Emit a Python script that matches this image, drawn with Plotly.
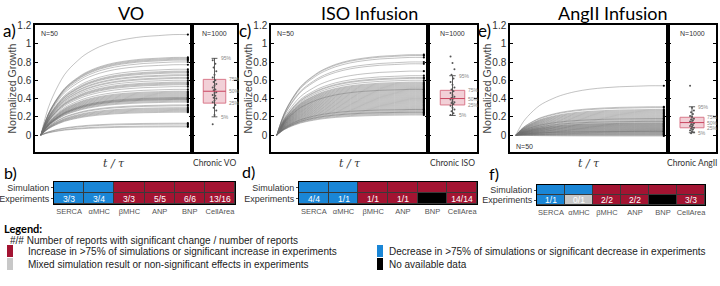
import plotly.graph_objects as go

W, H = 720, 286
def fx(p): return p / W
def fy(p): return 1 - p / H

# ---------------- data ----------------
t_grid = [0, 0.02, 0.05, 0.08, 0.12, 0.16, 0.2, 0.25, 0.3, 0.4, 0.5, 0.6, 0.7, 0.8, 0.9, 1.0]
rise_profile = [0, 0.12, 0.27, 0.38, 0.5, 0.6, 0.67, 0.74, 0.8, 0.88, 0.93, 0.96, 0.98, 0.99, 1.0, 1.0]

vo_plateaus = [1.1, 0.85, 0.84, 0.83, 0.82, 0.80, 0.77, 0.72, 0.70, 0.69, 0.68, 0.66, 0.65, 0.63, 0.62,
               0.60, 0.58, 0.57, 0.56, 0.55, 0.53, 0.50, 0.48, 0.47, 0.46, 0.45, 0.44, 0.43, 0.42, 0.41,
               0.41, 0.40, 0.40, 0.39, 0.39, 0.38, 0.37, 0.36, 0.33, 0.32, 0.30, 0.29, 0.28, 0.27, 0.26,
               0.25, 0.13, 0.12, 0.10, 0.09]
iso_plateaus = [0.88, 0.87, 0.85, 0.80, 0.78, 0.70, 0.65, 0.63, 0.62, 0.60, 0.58, 0.57, 0.56, 0.55, 0.54,
                0.53, 0.52, 0.51, 0.50, 0.50, 0.49, 0.48, 0.47, 0.46, 0.45, 0.44, 0.43, 0.42, 0.41, 0.40,
                0.39, 0.38, 0.37, 0.36, 0.35, 0.34, 0.33, 0.32, 0.31, 0.30, 0.29, 0.28, 0.28, 0.27, 0.26,
                0.25, 0.25, 0.24, 0.23, 0.22]
angii_plateaus = [0.54, 0.31, 0.30, 0.28, 0.27, 0.26, 0.25, 0.24, 0.23, 0.22, 0.21, 0.20, 0.19, 0.18, 0.18,
                  0.17, 0.16, 0.15, 0.15, 0.14, 0.13, 0.13, 0.12, 0.12, 0.11, 0.11, 0.10, 0.10, 0.09, 0.09,
                  0.08, 0.08, 0.07, 0.07, 0.06, 0.06, 0.05, 0.05, 0.04, 0.04, 0.04, 0.03, 0.03, 0.02, 0.02,
                  0.01, 0.01, 0.0, 0.0, -0.01]

percentile_labels = ["5%", "25%", "50%", "75%", "95%"]
vo_percentiles = [0.20, 0.35, 0.48, 0.61, 0.84]
iso_percentiles = [0.215, 0.33, 0.40, 0.49, 0.65]
angii_percentiles = [0.026, 0.08, 0.137, 0.195, 0.31]

vo_points = [0.12, 0.22, 0.27, 0.30, 0.33, 0.36, 0.38, 0.40, 0.41, 0.43, 0.44, 0.46, 0.47, 0.49, 0.50,
             0.52, 0.54, 0.56, 0.58, 0.60, 0.63, 0.66, 0.70, 0.74, 0.78, 0.82]
iso_points = [0.86, 0.79, 0.72, 0.66, 0.62, 0.58, 0.55, 0.52, 0.50, 0.48, 0.46, 0.44, 0.42, 0.41, 0.40,
              0.39, 0.37, 0.36, 0.35, 0.34, 0.32, 0.30, 0.28, 0.26, 0.24, 0.22]
angii_points = [0.54, 0.30, 0.27, 0.25, 0.23, 0.21, 0.20, 0.18, 0.17, 0.16, 0.15, 0.14, 0.13, 0.12, 0.11,
                0.10, 0.09, 0.08, 0.07, 0.06, 0.05, 0.04, 0.03, 0.02]

y_ticks = [0, 0.2, 0.4, 0.6, 0.8, 1.0, 1.2]

markers = ["SERCA", "αMHC", "βMHC", "ANP", "BNP", "CellArea"]
rows = ["Experiments", "Simulation"]
vo_sim = ["down", "down", "up", "up", "up", "up"]
vo_exp = ["down", "down", "up", "up", "up", "up"]
vo_txt = ["3/3", "3/4", "3/3", "5/5", "6/6", "13/16"]
iso_sim = ["down", "down", "up", "up", "up", "up"]
iso_exp = ["down", "down", "up", "up", "na", "up"]
iso_txt = ["4/4", "1/1", "1/1", "1/1", "", "14/14"]
angii_sim = ["down", "down", "up", "up", "up", "up"]
angii_exp = ["down", "mixed", "up", "up", "na", "up"]
angii_txt = ["1/1", "0/1", "2/2", "2/2", "", "3/3"]

status_code = {"mixed": 0, "down": 1, "up": 2, "na": 3}
RED, BLUE, GRAY, BLACK = "#a31432", "#1a86d6", "#c8c8c8", "#000000"

legend_items = [
    ("up", "Increase in >75% of simulations or significant increase in experiments"),
    ("mixed", "Mixed simulation result or non-significant effects in experiments"),
    ("down", "Decrease in >75% of simulations or significant decrease in experiments"),
    ("na", "No available data"),
]
status_color = {"mixed": GRAY, "down": BLUE, "up": RED, "na": BLACK}

# ---------------- layout geometry ----------------
panels = [
    dict(title="VO", letter="a)", main=(35, 192), right=(192, 237), plate=vo_plateaus,
         pct=vo_percentiles, pts=vo_points, chronic="Chronic VO", n50_top=True, tcx=131,
         heat=(54, 235, 182, 204), hletter=("b)", 2, 172), sim=vo_sim, exp=vo_exp, txt=vo_txt),
    dict(title="ISO Infusion", letter="c)", main=(271, 428), right=(428, 477), plate=iso_plateaus,
         pct=iso_percentiles, pts=iso_points, chronic="Chronic ISO", n50_top=True, tcx=370,
         heat=(299, 477, 182, 204), hletter=("d)", 240, 171), sim=iso_sim, exp=iso_exp, txt=iso_txt),
    dict(title="AngII Infusion", letter="e)", main=(510, 668), right=(668, 716), plate=angii_plateaus,
         pct=angii_percentiles, pts=angii_points, chronic="Chronic AngII", n50_top=False, tcx=613,
         heat=(537, 705, 185, 205), hletter=("f)", 487, 173), sim=angii_sim, exp=angii_exp, txt=angii_txt),
]
TOP, BOT = 25, 152
YR = [-0.185, 1.205]
FONT = "Liberation Sans, Arial, sans-serif"
CAL = "Lato, Open Sans, sans-serif"
NARROW = "Liberation Sans Narrow, Arial Narrow, sans-serif"

fig = go.Figure()
layout = dict(template="none", width=W, height=H, margin=dict(l=0, r=0, t=0, b=0, autoexpand=False),
              paper_bgcolor="white", plot_bgcolor="white", showlegend=False)
shapes, annos = [], []

def txt_at(px, py, text, size, color="#333", family=FONT, xanchor="center", **kw):
    annos.append(dict(xref="paper", yref="paper", x=fx(px), y=fy(py), text=text, showarrow=False,
                      xanchor=xanchor, yanchor="middle", font=dict(size=size, color=color, family=family), **kw))

for i, p in enumerate(panels):
    ax_m, ax_r, ax_h = 3 * i + 1, 3 * i + 2, 3 * i + 3
    def nm(k): return "" if k == 1 else str(k)
    xm, ym = "x" + nm(ax_m), "y" + nm(ax_m)
    xr, yr = "x" + nm(ax_r), "y" + nm(ax_r)
    xh, yh = "x" + nm(ax_h), "y" + nm(ax_h)

    # curves
    for A in p["plate"]:
        fig.add_trace(go.Scatter(x=t_grid, y=[A * r for r in rise_profile], mode="lines",
                                 line=dict(color="rgba(110,110,110,0.6)", width=0.7, shape="spline"),
                                 xaxis=xm, yaxis=ym, hoverinfo="skip"))
    fig.add_trace(go.Scatter(x=[t_grid[-1]] * len(p["plate"]), y=p["plate"], mode="markers",
                             marker=dict(color="black", size=2.2), xaxis=xm, yaxis=ym, hoverinfo="skip"))

    # right panel: box
    p5, p25, p50, p75, p95 = p["pct"]
    shapes.append(dict(type="rect", xref=xr, yref=yr, x0=-0.5, x1=0.5, y0=p25, y1=p75,
                       fillcolor="rgba(232,170,182,0.55)", line=dict(color="#d9798b", width=1), layer="below"))
    shapes.append(dict(type="line", xref=xr, yref=yr, x0=-0.5, x1=0.5, y0=p50, y1=p50,
                       line=dict(color="#c8455f", width=1)))
    fig.add_trace(go.Scatter(x=[0, 0], y=[p5, p95], mode="lines", line=dict(color="#333", width=0.8),
                             xaxis=xr, yaxis=yr, hoverinfo="skip"))
    for v in (p5, p95):
        fig.add_trace(go.Scatter(x=[-0.13, 0.13], y=[v, v], mode="lines", line=dict(color="#333", width=0.8),
                                 xaxis=xr, yaxis=yr, hoverinfo="skip"))
    jit = [((k * 7) % 5 - 2) * 0.04 for k in range(len(p["pts"]))]
    fig.add_trace(go.Scatter(x=jit, y=p["pts"], mode="markers", marker=dict(color="#555", size=2),
                             xaxis=xr, yaxis=yr, hoverinfo="skip"))
    for lab, v in zip(percentile_labels, p["pct"]):
        xx = 0.18 if lab in ("5%", "95%") else 0.55
        annos.append(dict(xref=xr, yref=yr, x=xx, y=v, text=lab, showarrow=False, xanchor="left",
                          yanchor="middle", font=dict(size=5, color="#888", family=FONT)))

    x0, x1 = p["main"]; r0, r1 = p["right"]
    dom_y = [fy(BOT), fy(TOP)]
    common = dict(automargin=False, showgrid=False, zeroline=False, showline=True,
                  linecolor="black", linewidth=1.5)
    layout["xaxis" + nm(ax_m)] = dict(domain=[fx(x0), fx(x1)], range=[-0.04, 1.028], anchor=ym,
                                      mirror=True, showticklabels=False, ticks="", **common)
    layout["yaxis" + nm(ax_m)] = dict(domain=dom_y, range=YR, anchor=xm, tickvals=y_ticks,
                                      mirror="ticks", ticks="inside", ticklen=3, tickcolor="black",
                                      tickfont=dict(size=10, color="#333", family=FONT), **common)
    layout["xaxis" + nm(ax_r)] = dict(domain=[fx(r0), fx(r1)], range=[-1, 1], anchor=yr,
                                      mirror=True, showticklabels=False, ticks="", **common)
    layout["yaxis" + nm(ax_r)] = dict(domain=dom_y, range=YR, anchor=xr, tickvals=y_ticks,
                                      mirror="ticks", ticks="inside", ticklen=3, tickcolor="black",
                                      showticklabels=False, **common)

    # texts around panel
    txt_at(p["tcx"], 13, p["title"], 18, "black", CAL)
    txt_at(x0 - 34, 31, p["letter"], 17, "black", CAL, xanchor="left")
    txt_at(x0 - 23, (TOP + BOT) / 2, "Normalized Growth", 10.5, "#444", FONT, textangle=-90)
    txt_at((x0 + x1) / 2, 163, "<i>t / τ</i>", 11, "#333", "DejaVu Serif")
    txt_at((r0 + r1) / 2, 163, p["chronic"], 8.5, "#333", CAL)
    txt_at((r0 + r1) / 2, 33, "N=1000", 7)
    txt_at(x0 + 4, 33 if p["n50_top"] else 146, "N=50", 7, xanchor="left")

    # heatmap
    hx0, hx1, hy0, hy1 = p["heat"]
    z = [[status_code[s] for s in p["exp"]], [status_code[s] for s in p["sim"]]]
    txt = [p["txt"], [""] * len(markers)]
    fig.add_trace(go.Heatmap(x=markers, y=rows, z=z, text=txt, texttemplate="%{text}",
                             textfont=dict(color="white", size=8.5, family=FONT),
                             zmin=0, zmax=3, showscale=False, xgap=1, ygap=1,
                             colorscale=[[0, GRAY], [0.2, GRAY], [0.2, BLUE], [0.5, BLUE], [0.5, RED],
                                         [0.8, RED], [0.8, BLACK], [1, BLACK]],
                             xaxis=xh, yaxis=yh, hoverinfo="skip"))
    shapes.append(dict(type="rect", xref=xh + " domain", yref=yh + " domain", x0=0, x1=1, y0=0, y1=1,
                       fillcolor="#3a3a3a", line=dict(width=0), layer="below"))
    layout["xaxis" + nm(ax_h)] = dict(domain=[fx(hx0), fx(hx1)], anchor=yh, showline=True, mirror=True,
                                      linecolor="black", linewidth=1, ticks="", showgrid=False,
                                      automargin=False, zeroline=False, tickmode="array",
                                      tickvals=markers, ticktext=markers,
                                      tickfont=dict(size=7.5, color="#555", family=FONT))
    layout["yaxis" + nm(ax_h)] = dict(domain=[fy(hy1), fy(hy0)], anchor=xh, showline=True, mirror=True,
                                      linecolor="black", linewidth=1, ticks="outside", ticklen=2,
                                      showgrid=False, automargin=False, zeroline=False,
                                      tickmode="array", tickvals=rows, ticktext=rows,
                                      tickfont=dict(size=9, color="#333", family=FONT))
    lt, lx, ly = p["hletter"]
    txt_at(lx, ly, lt, 16, "black", CAL, xanchor="left")

# legend
txt_at(2, 228, "<b>Legend:</b>", 11, "black", CAL, xanchor="left")
txt_at(8, 240, "#/# Number of reports with significant change / number of reports", 10, "#222", NARROW,
       xanchor="left")
leg_pos = [(7, 251), (7, 264), (377, 251), (377, 264)]
for (status, label), (lx, ly) in zip(legend_items, leg_pos):
    shapes.append(dict(type="rect", xref="paper", yref="paper", x0=fx(lx), x1=fx(lx + 6),
                       y0=fy(ly + 6), y1=fy(ly - 6), fillcolor=status_color[status], line=dict(width=0)))
    txt_at(lx + 19 if lx < 100 else lx + 10, ly, label, 10, "#222", NARROW, xanchor="left")

layout["shapes"] = shapes
layout["annotations"] = annos
fig.update_layout(**layout)
fig.write_html("out.html", config={"displayModeBar": False},
               post_script="document.body.style.margin='0';document.body.style.overflow='hidden';")
